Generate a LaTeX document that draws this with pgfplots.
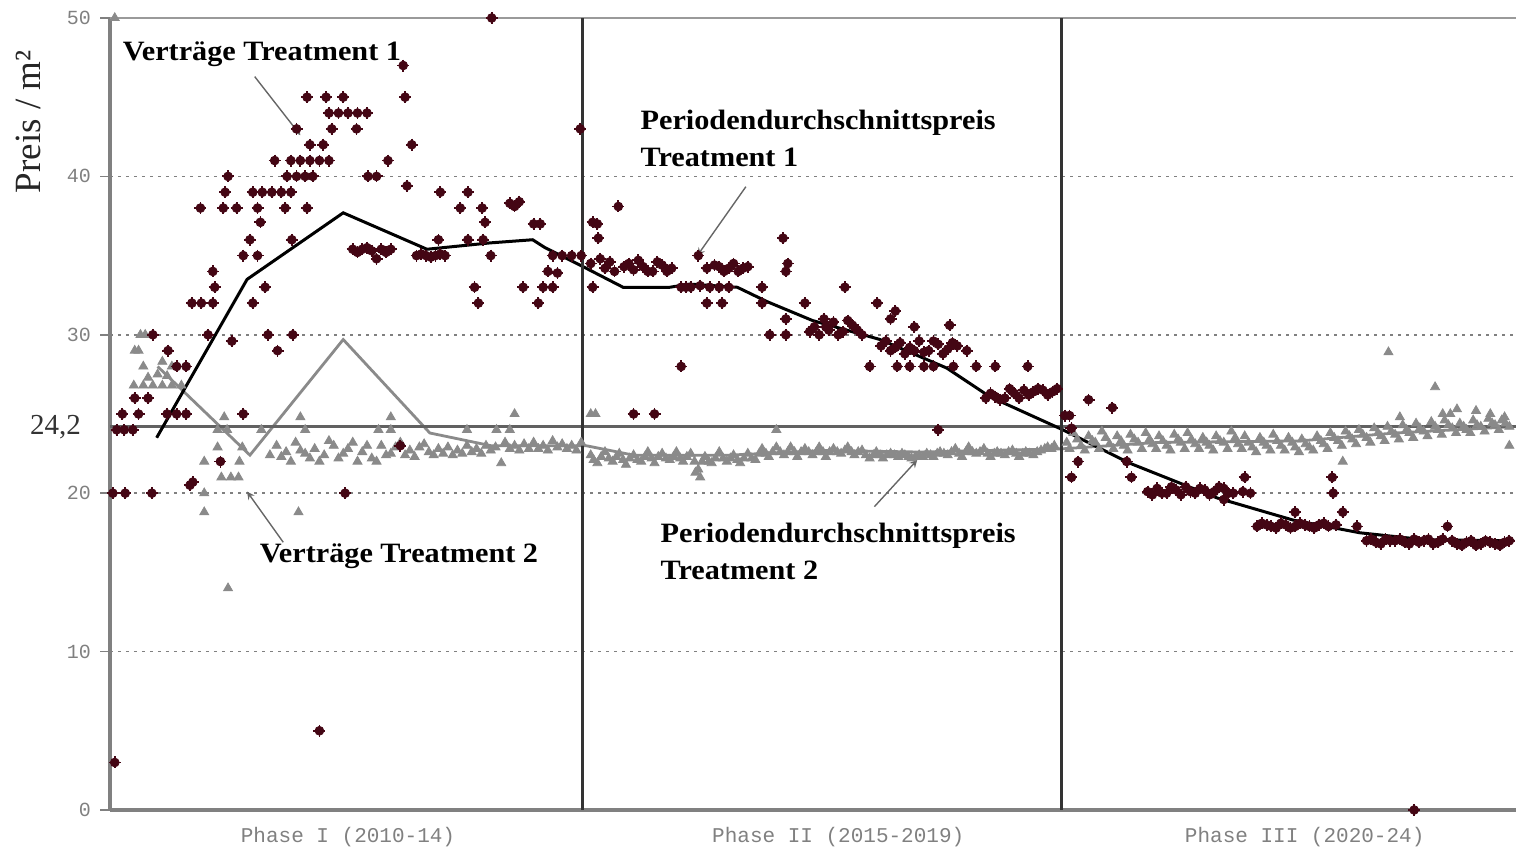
\documentclass[border=0pt]{standalone}
\usepackage{fontspec}
\setmainfont{Liberation Serif}
\setmonofont{Liberation Mono}
\newfontfamily\annfont{Liberation Serif}[FakeStretch=1.08]
\usepackage{pgfplots}
\usepackage{pgfplotstable}
\pgfplotsset{compat=1.18}
\definecolor{t1col}{RGB}{68,6,20}
\definecolor{t2col}{RGB}{138,138,138}
\definecolor{axgray}{RGB}{128,128,128}

\pgfplotstableread{
x y
2009.55 3.0
2009.53 20
2009.66 20
2009.94 20
2009.57 24
2009.65 24
2009.74 24
2009.63 25
2009.80 25
2010.10 25
2010.20 25
2010.30 25
2010.90 25
2009.76 26
2009.90 26
2010.20 28
2010.30 28
2010.11 29
2009.95 30
2010.53 30
2011.16 30
2011.42 30
2010.78 29.6
2011.26 29
2010.36 32
2010.46 32
2010.58 32
2011.00 32
2010.60 33
2011.13 33
2010.58 34
2010.90 35
2011.05 35
2010.97 36
2011.41 36
2011.08 37.1
2010.45 38
2010.69 38
2010.83 38
2011.05 38
2011.34 38
2011.57 38
2010.71 39
2011.00 39
2011.10 39
2011.20 39
2011.30 39
2011.40 39
2010.74 40
2011.36 40
2011.46 40
2011.55 40
2011.63 40
2012.21 40
2012.30 40
2011.23 41
2011.40 41
2011.50 41
2011.60 41
2011.70 41
2011.80 41
2012.42 41
2011.60 42
2011.74 42
2012.67 42
2011.46 43
2011.83 43
2012.09 43
2011.80 44
2011.90 44
2012.00 44
2012.10 44
2012.20 44
2011.57 45
2011.77 45
2011.95 45
2012.60 45
2012.58 47
2013.51 50
2012.62 39.4
2012.05 35.4
2012.15 35.4
2012.25 35.3
2012.35 35.4
2012.45 35.4
2012.30 34.8
2012.10 35.2
2012.20 35.5
2012.40 35.2
2012.72 35
2012.82 35
2012.92 35
2013.02 35
2012.77 35.1
2012.87 34.9
2012.97 35.1
2013.50 35
2012.97 39
2013.26 39
2013.18 38
2013.41 38
2013.70 38.3
2013.80 38.4
2013.75 38.1
2013.44 37.1
2013.95 37
2014.02 37
2012.95 36
2013.26 36
2013.42 36
2014.15 35
2014.25 35
2014.35 35
2014.45 35
2014.20 33.9
2014.10 34
2013.33 33
2013.84 33
2014.05 33
2014.15 33
2013.37 32
2014.00 32
2011.70 5.0
2010.66 22
2010.37 20.7
2010.34 20.5
2011.97 20
2012.55 23.0
2014.44 43
2014.84 38.1
2014.57 37.1
2014.62 37.0
2014.63 36.1
2014.57 33.0
2014.55 34.5
2014.65 34.8
2014.70 34.2
2014.75 34.6
2014.80 34.0
2014.90 34.3
2014.95 34.5
2015.00 34.1
2015.05 34.7
2015.10 34.3
2015.15 34.0
2015.20 34.0
2015.25 34.6
2015.30 34.4
2015.35 34.0
2015.40 34.2
2015.68 35.0
2015.77 34.2
2015.85 34.4
2015.90 34.3
2015.95 34.0
2016.00 34.2
2016.05 34.5
2016.10 34.0
2016.15 34.2
2016.20 34.3
2015.50 33
2015.55 33.0
2015.60 33
2015.70 33.1
2015.80 33
2015.90 33.0
2016.00 33
2015.77 32
2015.93 32
2016.57 36.1
2016.60 34.0
2016.62 34.5
2016.35 33
2016.35 32
2016.80 32
2016.60 31
2016.43 30
2016.60 30
2015.50 28
2017.22 33
2017.56 32
2017.75 31.5
2017.70 31.0
2016.85 30.2
2016.90 30.5
2016.95 30.0
2017.00 31.0
2017.02 30.5
2017.05 30.3
2017.10 30.8
2017.15 30.0
2017.20 30.2
2017.25 30.9
2017.30 30.6
2017.35 30.3
2017.40 30.0
2017.95 30.5
2018.32 30.6
2017.60 29.3
2017.65 29.6
2017.70 29.0
2017.75 29.2
2017.80 29.5
2017.90 29.2
2017.95 29.0
2018.00 29.6
2018.10 29.0
2018.15 29.6
2018.20 29.4
2018.25 28.8
2018.30 29.1
2018.35 29.5
2018.40 29.3
2017.85 28.8
2018.05 28.9
2018.50 29.0
2017.48 28
2017.77 28
2017.90 28
2018.05 28
2018.15 28
2018.36 28
2018.60 28
2018.80 28
2019.14 28
2018.70 26.0
2018.75 26.3
2018.80 26.1
2018.85 25.9
2018.90 26.0
2018.95 26.6
2019.00 26.3
2019.05 26.0
2019.10 26.5
2019.15 26.2
2019.20 26.4
2019.25 26.6
2019.30 26.5
2019.35 26.2
2019.40 26.4
2019.45 26.6
2019.53 24.9
2018.20 24.0
2015.00 25
2015.22 25
2019.78 25.9
2020.03 25.4
2019.58 24.9
2019.60 24.1
2019.67 22
2019.60 21
2020.23 21
2020.18 22
2020.40 20.1
2020.45 19.9
2020.50 20.3
2020.55 20.0
2020.60 20.0
2020.65 20.4
2020.70 20.2
2020.75 19.9
2020.80 20.4
2020.85 20.1
2020.90 20.0
2020.95 20.3
2021.00 20.2
2021.05 19.9
2021.10 20.1
2021.15 20.4
2021.20 20.3
2021.25 20.0
2021.30 20.0
2021.40 20.1
2021.48 20.0
2021.42 21
2021.20 19.6
2021.95 18.8
2022.34 21
2022.35 20
2022.45 18.8
2021.55 17.9
2021.60 18.1
2021.65 18.0
2021.70 17.9
2021.75 17.8
2021.80 18.1
2021.85 18.0
2021.90 17.8
2021.95 17.9
2022.00 18.1
2022.05 18.0
2022.10 17.9
2022.15 17.8
2022.20 18.0
2022.25 18.1
2022.30 17.9
2022.38 18.0
2022.60 17.9
2023.55 17.9
2022.70 17.0
2022.75 17.1
2022.80 16.9
2022.85 16.8
2022.90 17.1
2022.95 17.0
2023.00 17.0
2023.05 17.1
2023.10 16.9
2023.15 16.8
2023.20 17.1
2023.25 16.9
2023.30 17.0
2023.35 17.1
2023.40 16.8
2023.45 16.9
2023.50 17.1
2023.60 17.0
2023.65 16.8
2023.70 16.7
2023.75 16.9
2023.80 17.0
2023.85 16.7
2023.90 16.8
2023.95 17.0
2024.00 16.9
2024.05 16.8
2024.10 16.7
2024.15 16.9
2024.20 17.0
2023.20 0
}\tone

\pgfplotstableread{
x y
2009.55 50
2009.82 30
2009.87 30
2009.76 29
2009.80 29
2009.85 28
2010.05 28.3
2010.15 28.0
2009.75 26.8
2009.85 26.8
2009.95 26.8
2010.05 26.8
2010.15 26.8
2010.25 26.8
2009.90 27.3
2010.00 27.5
2010.10 27.4
2010.70 24.8
2011.50 24.8
2012.45 24.8
2013.75 25.0
2014.55 25.0
2010.63 24.0
2010.73 24.0
2011.09 24.0
2011.55 24.0
2012.32 24.0
2012.45 24.0
2013.25 24.0
2013.56 24.0
2013.70 24.0
2010.63 22.9
2010.89 22.9
2011.18 22.4
2010.49 22.0
2010.86 22.0
2010.67 21.0
2010.77 21.0
2010.85 21.0
2010.49 20.0
2010.49 18.8
2011.48 18.8
2010.74 14.0
2011.25 23.0
2011.30 22.3
2011.35 22.6
2011.40 22.0
2011.45 23.2
2011.50 22.7
2011.55 22.5
2011.60 22.2
2011.65 22.8
2011.70 22.0
2011.75 22.4
2011.80 23.3
2011.85 23.0
2011.90 22.2
2011.95 22.5
2012.00 22.8
2012.05 23.2
2012.10 22.0
2012.15 22.6
2012.20 23.0
2012.25 22.2
2012.30 22.0
2012.35 23.0
2012.40 22.4
2012.45 22.5
2012.50 22.9
2012.55 23.2
2012.60 22.4
2012.65 22.7
2012.70 22.3
2012.75 22.9
2012.80 23.1
2012.85 22.6
2012.90 22.4
2012.95 22.8
2013.00 22.5
2013.05 22.9
2013.10 22.4
2013.15 22.7
2013.20 22.5
2013.25 23.0
2013.30 22.6
2013.35 22.8
2013.40 22.5
2013.45 23.0
2013.50 22.7
2013.55 22.9
2013.61 21.9
2013.65 23.2
2013.70 22.8
2013.75 23.0
2013.80 22.7
2013.85 23.1
2013.90 22.8
2013.95 23.2
2014.00 22.8
2014.05 23.0
2014.10 22.7
2014.15 23.3
2014.20 22.9
2014.25 23.1
2014.30 22.8
2014.35 23.0
2014.40 22.7
2014.45 23.2
2014.60 25.0
2016.50 24.0
2015.65 21.3
2015.70 21.0
2014.55 22.4
2014.58 22.1
2014.62 21.9
2014.66 22.3
2014.70 22.6
2014.74 22.2
2014.78 22.0
2014.82 22.3
2014.85 22.5
2014.89 22.1
2014.92 21.8
2014.96 22.2
2015.00 22.4
2015.04 22.1
2015.08 22.0
2015.12 22.3
2015.15 22.6
2015.19 22.2
2015.22 21.9
2015.26 22.3
2015.30 22.5
2015.34 22.2
2015.38 22.1
2015.42 22.3
2015.45 22.6
2015.49 22.2
2015.52 22.0
2015.56 22.3
2015.60 22.5
2015.64 22.0
2015.68 21.5
2015.72 22.0
2015.75 22.3
2015.79 22.0
2015.82 21.9
2015.86 22.2
2015.90 22.6
2015.94 22.2
2015.98 22.0
2016.02 22.2
2016.05 22.4
2016.09 22.1
2016.12 21.9
2016.16 22.2
2016.20 22.5
2016.24 22.2
2016.28 22.1
2016.32 22.5
2016.35 22.8
2016.39 22.5
2016.42 22.3
2016.46 22.6
2016.50 22.9
2016.54 22.6
2016.58 22.4
2016.62 22.6
2016.65 22.9
2016.69 22.6
2016.72 22.3
2016.76 22.6
2016.80 22.8
2016.84 22.6
2016.88 22.4
2016.92 22.6
2016.95 22.9
2016.99 22.6
2017.02 22.3
2017.06 22.6
2017.10 22.8
2017.14 22.6
2017.18 22.5
2017.22 22.7
2017.25 22.9
2017.29 22.6
2017.32 22.4
2017.36 22.6
2017.40 22.7
2017.44 22.4
2017.48 22.2
2017.52 22.4
2017.55 22.6
2017.59 22.4
2017.62 22.2
2017.66 22.4
2017.70 22.5
2017.74 22.4
2017.78 22.3
2017.82 22.5
2017.85 22.4
2017.89 22.3
2017.92 22.2
2017.96 22.3
2018.00 22.4
2018.04 22.3
2018.08 22.5
2018.12 22.4
2018.15 22.3
2018.19 22.5
2018.22 22.6
2018.26 22.5
2018.30 22.4
2018.34 22.6
2018.38 22.8
2018.42 22.5
2018.45 22.3
2018.49 22.6
2018.52 22.9
2018.56 22.6
2018.60 22.5
2018.64 22.6
2018.68 22.8
2018.72 22.5
2018.75 22.3
2018.79 22.5
2018.82 22.6
2018.86 22.5
2018.90 22.4
2018.94 22.6
2018.98 22.7
2019.02 22.5
2019.05 22.3
2019.09 22.5
2019.12 22.6
2019.16 22.5
2019.20 22.4
2019.24 22.6
2019.28 22.7
2019.32 22.8
2019.35 22.9
2019.39 22.8
2019.42 23.0
2019.55 23.2
2019.58 22.8
2019.62 23.8
2019.66 23.4
2019.70 23.0
2019.74 22.7
2019.78 23.6
2019.82 23.3
2019.85 23.2
2019.89 22.8
2019.92 23.9
2019.96 23.5
2020.00 23.1
2020.04 22.8
2020.08 23.6
2020.12 23.3
2020.15 23.0
2020.19 22.7
2020.22 23.7
2020.26 23.4
2020.30 23.2
2020.34 22.8
2020.38 23.8
2020.42 23.4
2020.45 23.1
2020.49 22.8
2020.52 23.6
2020.56 23.3
2020.60 23.0
2020.64 22.7
2020.68 23.7
2020.72 23.4
2020.75 23.2
2020.79 22.8
2020.82 23.8
2020.86 23.4
2020.90 23.1
2020.94 22.8
2020.98 23.5
2021.02 23.2
2021.05 23.0
2021.09 22.7
2021.12 23.6
2021.16 23.3
2021.20 23.2
2021.24 22.8
2021.28 23.9
2021.32 23.5
2021.35 23.1
2021.39 22.8
2021.42 23.6
2021.46 23.2
2021.50 22.9
2021.54 22.6
2021.58 23.5
2021.62 23.2
2021.65 23.0
2021.69 22.7
2021.72 23.7
2021.76 23.3
2021.80 23.0
2021.84 22.7
2021.88 23.5
2021.92 23.2
2021.95 22.9
2021.99 22.6
2022.02 23.4
2022.06 23.1
2022.10 22.9
2022.14 22.7
2022.18 23.6
2022.22 23.3
2022.25 23.1
2022.29 22.8
2022.32 23.8
2022.36 23.5
2022.40 23.3
2022.44 23.0
2022.48 23.9
2022.52 23.6
2022.55 23.4
2022.59 23.1
2022.62 24.0
2022.66 23.7
2022.70 23.5
2022.74 23.2
2022.78 24.1
2022.82 23.8
2022.85 23.6
2022.89 23.3
2022.92 24.2
2022.96 23.9
2023.00 23.7
2023.04 23.4
2023.08 24.3
2023.12 24.0
2023.15 23.8
2023.19 23.5
2023.22 24.4
2023.26 24.1
2023.30 23.9
2023.34 23.6
2023.38 24.5
2023.42 24.2
2023.45 24.0
2023.49 23.7
2023.52 24.6
2023.56 24.3
2023.60 24.1
2023.64 23.8
2023.68 24.4
2023.72 24.2
2023.75 24.0
2023.79 23.8
2023.82 24.6
2023.86 24.3
2023.90 24.2
2023.94 23.9
2023.98 24.7
2024.02 24.4
2024.05 24.3
2024.09 24.0
2024.12 24.6
2024.16 24.4
2024.20 24.2
2022.93 28.9
2023.42 26.7
2023.05 24.8
2023.50 25.0
2023.58 25.0
2023.65 25.3
2023.85 25.2
2024.00 25.0
2024.15 24.8
2022.45 22.0
2024.20 23.0
}\ttwo

\pgfplotstableread{
x y
2009.99 23.5
2010.94 33.5
2011.95 37.7
2012.83 35.4
2013.49 35.8
2013.94 36.0
2014.07 35.5
2014.47 34.3
2014.89 33.0
2015.38 33.0
2015.59 33.2
2016.09 33.0
2016.40 32.1
2016.88 30.9
2017.59 29.7
2018.29 27.9
2018.74 26.1
2019.51 24.0
2020.21 21.9
2021.13 19.7
2021.93 18.3
2022.63 17.5
2023.33 17.05
2024.25 17.0
}\avgone

\pgfplotstableread{
x y
2010.00 28.0
2010.97 22.4
2011.95 29.7
2012.86 23.8
2013.50 23.0
2014.50 23.0
2015.00 22.4
2016.00 22.4
2017.00 22.7
2018.00 22.6
2019.50 22.8
2020.50 23.2
2022.00 23.3
2023.00 23.8
2024.25 24.2
}\avgtwo

\begin{document}
\begin{tikzpicture}
\begin{axis}[
  at={(0,0)}, anchor=south west,
  width=703pt, height=396pt, scale only axis,
  xmin=2009.5, xmax=2024.27, ymin=0, ymax=50,
  clip=false,
  axis line style={draw=none},
  ytick={0,10,20,30,40,50},
  ytick pos=left,
  tick align=outside,
  major tick length=5pt,
  ytick style={axgray, line width=0.8pt},
  ymajorgrids,
  grid style={axgray, line width=0.8pt, dash pattern=on 1.5pt off 2.5pt},
  /pgf/number format/assume math mode=true,
  yticklabel style={font=\ttfamily\fontsize{10}{10}\selectfont, text=axgray, xshift=-1pt},
  extra y ticks={24.2},
  extra y tick labels={24{,}2},
  extra y tick style={grid=none, tick style={draw=none},
    yticklabel style={font=\rmfamily\fontsize{14.5}{14.5}\selectfont, text=black!80, xshift=-5pt}},
  xtick={2012,2017.15,2022.05},
  xticklabels={Phase I (2010-14),Phase II (2015-2019),Phase III (2020-24)},
  xtick style={draw=none},
  xticklabel style={font=\ttfamily\fontsize{10.5}{10.5}\selectfont, text=axgray},
]
% frame
\draw[axgray, line width=1.6pt] (rel axis cs:0,0) -- (rel axis cs:1,0);
\draw[axgray, line width=1.6pt] (rel axis cs:0,0) -- (rel axis cs:0,1);
\draw[axgray!80, line width=1.1pt] (rel axis cs:0,1) -- (rel axis cs:1,1);

\addplot[only marks, mark=triangle*, mark size=2.6pt, draw=t2col, fill=t2col] table[x=x,y=y] {\ttwo};
\addplot[t2col, line width=1.4pt, no marks] table[x=x,y=y] {\avgtwo};
\draw[black!62, line width=1.8pt] (axis cs:2009.5,24.2) -- (axis cs:2024.27,24.2);
\addplot[only marks, mark=*, mark size=2.2pt, draw=t1col, fill=t1col] table[x=x,y=y] {\tone};
\addplot[only marks, mark=+, mark size=3pt, t1col, line width=0.9pt] table[x=x,y=y] {\tone};
\addplot[black, line width=1.5pt, no marks] table[x=x,y=y] {\avgone};

\draw[black!80, line width=1.5pt] (axis cs:2014.46,0) -- (axis cs:2014.46,50);
\draw[black!80, line width=1.5pt] (axis cs:2019.5,0) -- (axis cs:2019.5,50);

% annotations
\node[anchor=west, inner sep=0pt, font=\annfont\bfseries\fontsize{14}{18.5}\selectfont] at (axis cs:2009.63,47.7) {Verträge Treatment 1};
\draw[black!60, line width=0.7pt, -stealth] (axis cs:2011.02,46.3) -- (axis cs:2011.5,42.6);
\node[anchor=west, inner sep=0pt, align=left, font=\annfont\bfseries\fontsize{14}{18.5}\selectfont] at (axis cs:2015.07,42.4) {Periodendurchschnittspreis\\Treatment 1};
\draw[black!60, line width=0.7pt, -stealth] (axis cs:2016.18,39.35) -- (axis cs:2015.67,35.0);
\node[anchor=west, inner sep=0pt, font=\annfont\bfseries\fontsize{14}{18.5}\selectfont] at (axis cs:2011.07,16.0) {Verträge Treatment 2};
\draw[black!60, line width=0.7pt, -stealth] (axis cs:2011.32,16.9) -- (axis cs:2010.94,20.1);
\node[anchor=west, inner sep=0pt, align=left, font=\annfont\bfseries\fontsize{14}{18.5}\selectfont] at (axis cs:2015.28,16.3) {Periodendurchschnittspreis\\Treatment 2};
\draw[black!60, line width=0.7pt, -stealth] (axis cs:2017.53,19.15) -- (axis cs:2017.98,22.1);

\node[rotate=90, inner sep=0pt, font=\rmfamily\fontsize{18.5}{18.5}\selectfont, text=black!85] at ([xshift=-41pt]rel axis cs:0,0.869) {Preis / m²};
\end{axis}
\pgfresetboundingbox
\path[use as bounding box] (-55pt,-19.5pt) rectangle (703pt,405pt);
\end{tikzpicture}
\end{document}
